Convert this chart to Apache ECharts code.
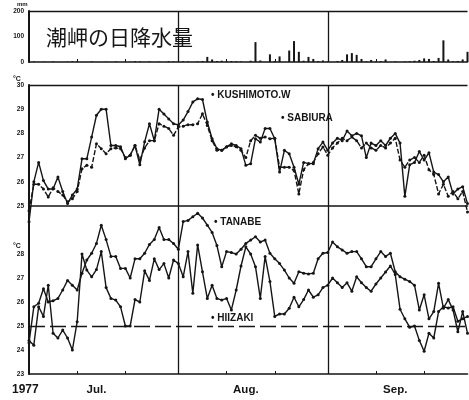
<!DOCTYPE html>
<html>
<head>
<meta charset="utf-8">
<script src="https://cdn.jsdelivr.net/npm/echarts@6/dist/echarts.min.js"></script>
<style>
  html, body { margin: 0; padding: 0; background: #fff; }
  #chart { width: 469px; height: 400px; }
</style>
</head>
<body>
<div id="chart"></div>
<script>
// Daily observations, 1 July - 30 September 1977
const monthNames = ['Jul.', 'Aug.', 'Sep.'];
const monthLengths = [31, 31, 30];
const days = [];
monthLengths.forEach((n, m) => { for (let d = 1; d <= n; d++) days.push((m + 7) + '/' + d); });

const tickDays = [1, 11, 21];          // small ticks on the time axis
const monthBoundaries = ['8/1', '9/1']; // vertical separators
const rainTicks = [0, 100, 200];
const upperTempTicks = [25, 26, 27, 28, 29, 30];
const lowerTempTicks = [23, 24, 25, 26, 27, 28];

// Daily precipitation at Shionomisaki (mm)
const rainfall = [
  0, 2, 0, 1, 0, 2, 0, 0, 1, 3, 2, 0, 0, 2, 0, 0, 1, 0, 2, 0, 0, 1, 3, 2, 0, 2, 0, 1, 0, 3, 2,
  1, 3, 2, 0, 2, 4, 20, 10, 4, 5, 3, 4, 3, 2, 0, 5, 78, 6, 0, 30, 4, 22, 0, 45, 82, 40, 5, 20, 12, 4, 6,
  2, 0, 4, 8, 30, 35, 28, 12, 3, 8, 2, 3, 10, 0, 2, 0, 2, 3, 5, 8, 14, 12, 4, 16, 85, 10, 3, 4, 10, 40
];

// Water temperature (°C)
const kushimoto = [
  24.35, 26.0, 26.8, 26.05, 25.7, 25.7, 26.2, 25.6, 25.1, 25.45, 25.7, 26.95, 26.95, 27.85, 28.75, 29.0,
  29.0, 27.5, 27.5, 27.45, 26.95, 27.1, 27.5, 26.7, 27.65, 28.4, 27.7, 29.0, 28.8, 28.6, 28.4,
  28.35, 28.55, 28.9, 29.3, 29.43, 29.4, 28.47, 27.78, 27.37, 27.3, 27.44, 27.57, 27.5, 27.37, 26.68, 26.75,
  27.78, 27.64, 28.2, 28.2, 27.78, 26.4, 27.3, 27.16, 26.6, 25.9, 26.8, 26.75, 26.75, 27.37, 27.64,
  27.3, 27.6, 27.8, 27.7, 28.1, 27.9, 28.0, 27.9, 27.0, 27.6, 27.5, 27.7, 27.5, 27.8, 28.0,
  27.6, 25.4, 26.7, 26.8, 27.25, 26.9, 27.2, 26.4, 26.3, 26.0, 26.2, 25.5, 25.7, 25.8, 25.1
];
const sabiura = [
  24.8, 25.9, 25.9, 25.7, 25.37, 25.75, 25.6, 25.45, 25.17, 25.3, 25.6, 26.54, 26.68, 26.6, 27.57, 27.37,
  27.16, 27.37, 27.4, 27.37, 27.0, 27.1, 27.5, 26.9, 27.4, 27.7, 27.7, 28.4, 28.3, 28.2, 27.92,
  28.27, 28.3, 28.36, 28.36, 28.4, 28.81, 28.33, 27.7, 27.3, 27.3, 27.45, 27.5, 27.45, 27.3, 27.0, 27.7,
  27.92, 27.8, 27.85, 27.78, 27.8, 26.6, 26.6, 26.6, 26.47, 25.5, 26.5, 26.75, 26.8, 27.16, 27.44,
  27.1, 27.4, 27.6, 27.8, 27.7, 27.85, 27.7, 27.4, 27.6, 27.4, 27.3, 27.5, 27.4, 27.6, 27.8,
  26.9, 26.6, 26.9, 27.0, 26.8, 27.1, 26.5, 26.3, 25.5, 25.9, 25.4, 25.6, 25.3, 25.6, 24.75
];
const tanabe = [
  24.3, 25.8, 25.95, 26.55, 26.0, 26.05, 26.15, 26.5, 26.9, 26.7, 26.5, 27.2, 27.75, 28.03, 28.44, 29.2,
  28.6, 27.9, 27.9, 27.4, 27.4, 27.0, 27.8, 27.8, 28.03, 28.4, 28.6, 29.1, 28.6, 28.6, 28.44,
  28.2, 29.35, 29.4, 29.55, 29.7, 29.5, 29.2, 28.9, 28.35, 27.47, 28.1, 28.06, 28.0, 28.2, 28.44, 28.58,
  28.72, 28.5, 28.58, 28.03, 27.8, 27.6, 27.33, 27.0, 26.78, 27.26, 27.2, 27.17, 27.2, 27.8, 28.03,
  28.06, 28.5, 28.3, 28.17, 28.03, 28.1, 28.1, 27.8, 27.47, 27.47, 27.8, 28.1, 27.9, 28.03, 27.26,
  27.05, 26.95, 26.85, 26.7, 25.67, 26.3, 25.3, 25.6, 26.78, 25.74, 26.1, 25.67, 24.76, 25.6, 24.7
];
const hiizaki = [
  24.4, 24.2, 25.8, 25.4, 26.7, 24.7, 24.5, 24.83, 24.5, 24.0, 25.18, 28.0, 27.33, 27.05, 27.35, 28.1,
  26.6, 26.15, 26.08, 25.8, 25.0, 25.0, 26.1, 26.0, 27.3, 26.9, 27.8, 27.35, 27.6, 27.0, 27.75,
  27.6, 27.05, 28.1, 26.36, 28.38, 27.26, 26.15, 26.7, 26.15, 26.08, 26.15, 25.67, 26.5, 27.5, 28.3, 28.0,
  27.47, 26.15, 27.9, 26.85, 25.4, 25.5, 25.5, 25.74, 26.2, 25.8, 26.1, 26.5, 26.2, 26.3, 26.6,
  26.7, 27.0, 26.8, 26.6, 26.8, 26.45, 27.05, 26.8, 26.6, 26.45, 26.75, 27.0, 27.25, 27.5, 27.15,
  25.7, 25.3, 24.95, 25.0, 24.4, 23.95, 24.7, 24.5, 25.6, 25.8, 25.75, 25.8, 25.2, 25.3, 25.4
];

const INK = '#151515';
const FONT = '"Liberation Sans", Arial, sans-serif';

const gridLeft = 29, gridRight = 1.5;
const grids = [
  { left: gridLeft, right: gridRight, top: 11, height: 51 },
  { left: gridLeft, right: gridRight, top: 85, height: 121 },
  { left: gridLeft, right: gridRight, top: 206, height: 168 }
];

function dayOfMonth(v) { return +String(v).split('/')[1]; }

function timeAxis(gridIndex, extra) {
  return Object.assign({
    type: 'category', gridIndex, data: days, boundaryGap: false,
    axisLine: { show: true, lineStyle: { color: INK, width: 1.6 } },
    axisTick: {
      show: true, inside: true, length: 3,
      interval: (i, v) => tickDays.includes(dayOfMonth(v)),
      lineStyle: { color: INK, width: 1 }
    },
    axisLabel: { show: false },
    splitLine: { show: false }
  }, extra || {});
}

function valueAxis(gridIndex, min, max, interval, shown) {
  return {
    type: 'value', gridIndex, min, max, interval,
    axisLine: { show: true, lineStyle: { color: INK, width: 2 } },
    axisTick: { show: false },
    splitLine: { show: false },
    axisLabel: {
      color: INK, fontSize: 6.5, fontWeight: 'bold', fontFamily: FONT, margin: 5,
      formatter: v => (shown.includes(v) ? String(v) : '')
    }
  };
}

function rules(items) {
  return {
    silent: true, symbol: ['none', 'none'], animation: false,
    label: { show: false }, emphasis: { disabled: true },
    lineStyle: { color: INK, width: 1.3, type: 'solid' },
    data: items
  };
}
const boundaryRules = monthBoundaries.map(d => ({ xAxis: d }));

function tempLine(name, data, xi, dash, extraMark) {
  return {
    name, type: 'line', xAxisIndex: xi, yAxisIndex: xi, data,
    clip: false, showAllSymbol: true, symbol: 'circle', symbolSize: 3,
    itemStyle: { color: INK },
    lineStyle: { color: INK, width: 1.4, type: dash || 'solid' },
    animation: false,
    markLine: extraMark
  };
}

const labelStyle = (text, x, y, size, weight, family) => ({
  type: 'text', silent: true, z: 100,
  style: {
    text, x, y, fill: INK, fontSize: size, fontWeight: weight || 'bold',
    fontFamily: family || FONT, textVerticalAlign: 'middle'
  }
});

const option = {
  backgroundColor: '#fff',
  animation: false,
  grid: grids,
  xAxis: [
    timeAxis(0),
    timeAxis(1, { axisTick: { show: false } }),
    timeAxis(2, {
      axisLabel: {
        show: true, color: INK, fontSize: 11.5, fontWeight: 'bold', fontFamily: FONT, margin: 10,
        interval: (i, v) => dayOfMonth(v) === 15,
        formatter: v => monthNames[+String(v).split('/')[0] - 7]
      }
    })
  ],
  yAxis: [
    valueAxis(0, 0, 200, 100, rainTicks),
    valueAxis(1, 25, 30, 1, upperTempTicks),
    valueAxis(2, 23, 30, 1, lowerTempTicks)
  ],
  series: [
    {
      name: 'rainfall', type: 'bar', xAxisIndex: 0, yAxisIndex: 0, data: rainfall,
      barWidth: 2, itemStyle: { color: INK }, animation: false,
      markLine: rules(boundaryRules.concat([{ yAxis: 200 }]))
    },
    tempLine('KUSHIMOTO.W', kushimoto, 1, 'solid', rules(boundaryRules.concat([{ yAxis: 30 }]))),
    tempLine('SABIURA', sabiura, 1, [5, 2]),
    tempLine('TANABE', tanabe, 2, 'solid', rules(boundaryRules)),
    tempLine('HIIZAKI', hiizaki, 2, 'solid', Object.assign(rules([{ yAxis: 25 }]), {
      lineStyle: { color: INK, width: 1.3, type: [16, 5] }
    }))
  ],
  graphic: [
    labelStyle('潮岬の日降水量', 46, 37, 21, 'normal', '"Noto Sans CJK JP", sans-serif'),
    labelStyle('mm', 17, 4, 6),
    labelStyle('°C', 13, 79, 7),
    labelStyle('°C', 13, 246, 7),
    labelStyle('• KUSHIMOTO.W', 211, 95, 10),
    labelStyle('• SABIURA', 281, 118.5, 10),
    labelStyle('• TANABE', 214, 222.5, 10),
    labelStyle('• HIIZAKI', 211, 318.5, 10),
    labelStyle('1977', 12, 390, 12)
  ]
};

const chart = echarts.init(document.getElementById('chart'), null, { renderer: 'canvas' });
chart.setOption(option);
</script>
</body>
</html>
